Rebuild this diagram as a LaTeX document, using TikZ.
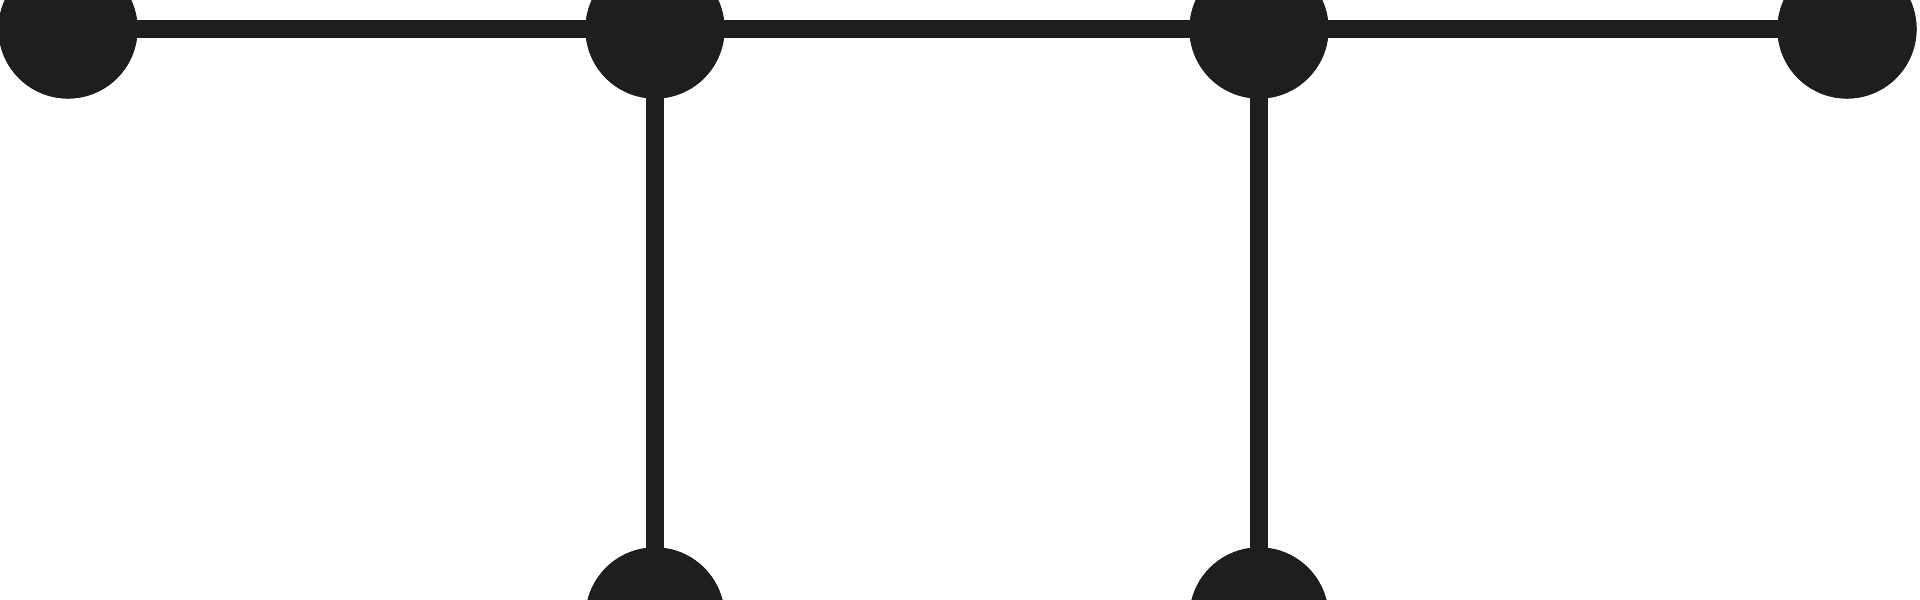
\documentclass[tikz,border=0pt]{standalone}
\begin{document}
\begin{tikzpicture}[x=0.01cm,y=0.01cm]
\definecolor{ink}{HTML}{1E1E1C}
\tikzset{dot/.style={circle,fill=ink,minimum size=1.39cm,inner sep=0pt,outer sep=0pt},
  edge/.style={draw=ink,line width=0.18cm}}
\useasboundingbox (0,0) rectangle (1920,600);
\clip (0,0) rectangle (1920,600);
\node[dot] (a) at (68,571) {};
\node[dot] (b) at (655,571) {};
\node[dot] (c) at (1259,571) {};
\node[dot] (d) at (1847,571) {};
\node[dot] (e) at (655,-17) {};
\node[dot] (f) at (1259,-17) {};
\begin{scope}[on background layer/.try]
\end{scope}
\path[edge] (a.center) -- (b.center) -- (c.center) -- (d.center);
\path[edge] (b.center) -- (e.center);
\path[edge] (c.center) -- (f.center);
\node[dot] at (a) {};
\node[dot] at (b) {};
\node[dot] at (c) {};
\node[dot] at (d) {};
\node[dot] at (e) {};
\node[dot] at (f) {};
\end{tikzpicture}
\end{document}
